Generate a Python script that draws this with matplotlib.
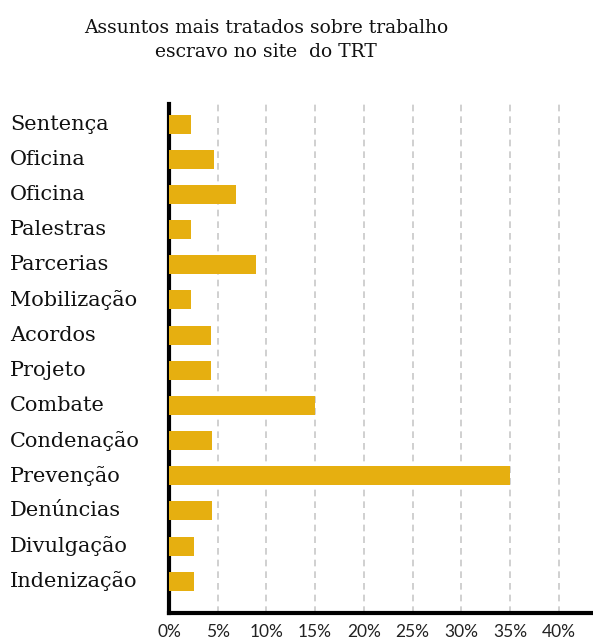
import matplotlib
matplotlib.use("Agg")
import matplotlib.pyplot as plt
import matplotlib.transforms as mtransforms

categories = ["Sentença", "Oficina", "Oficina", "Palestras", "Parcerias", "Mobilização",
              "Acordos", "Projeto", "Combate", "Condenação", "Prevenção", "Denúncias",
              "Divulgação", "Indenização"]
values = [2.3, 4.6, 6.9, 2.3, 8.9, 2.3, 4.3, 4.3, 15.0, 4.4, 35.0, 4.4, 2.6, 2.6]
xticks = [0, 5, 10, 15, 20, 25, 30, 35, 40]
xtick_labels = ["0%", "5%", "10%", "15%", "20%", "25%", "30%", "35%", "40%"]
title = "Assuntos mais tratados sobre trabalho\nescravo no site  do TRT"

W, H = 593, 643
fig = plt.figure(figsize=(W / 100, H / 100), dpi=100)
left, right, top, bottom = 169, 593, 104, 613
ax = fig.add_axes([left / W, 1 - bottom / H, (right - left) / W, (bottom - top) / H])

n = len(categories)
ypos = list(range(n - 1, -1, -1))
ax.barh(ypos, values, height=0.54, color="#E6AF10", zorder=3)

ax.set_xlim(0, (right - left) / 48.7 * 5)
ax.set_ylim(-0.9, n - 1 + 0.57)
ax.set_xticks(xticks)
ax.set_xticklabels(xtick_labels, fontfamily="Lato", fontsize=12.5, color="#222222")
ax.tick_params(axis="x", length=0, pad=8)
ax.set_yticks([])

trans = mtransforms.blended_transform_factory(fig.transFigure, ax.transData)
for y, c in zip(ypos, categories):
    ax.text(10 / W, y, c, transform=trans, fontfamily="DejaVu Serif", fontsize=15,
            color="#111111", va="center", ha="left", clip_on=False)

ax.grid(axis="x", color="#c8c8c8", linestyle=(0, (4, 3)), linewidth=1.2, zorder=0)
for s in ["top", "right"]:
    ax.spines[s].set_visible(False)
ax.spines["left"].set_linewidth(3)
ax.spines["bottom"].set_linewidth(3)
ax.spines["left"].set_color("black")
ax.spines["bottom"].set_color("black")

fig.text(266 / W, 1 - 40 / H, title, ha="center", va="center", fontfamily="DejaVu Serif",
         fontsize=13.5, color="#111111", linespacing=1.45)

fig.savefig("out.png", dpi=100)
